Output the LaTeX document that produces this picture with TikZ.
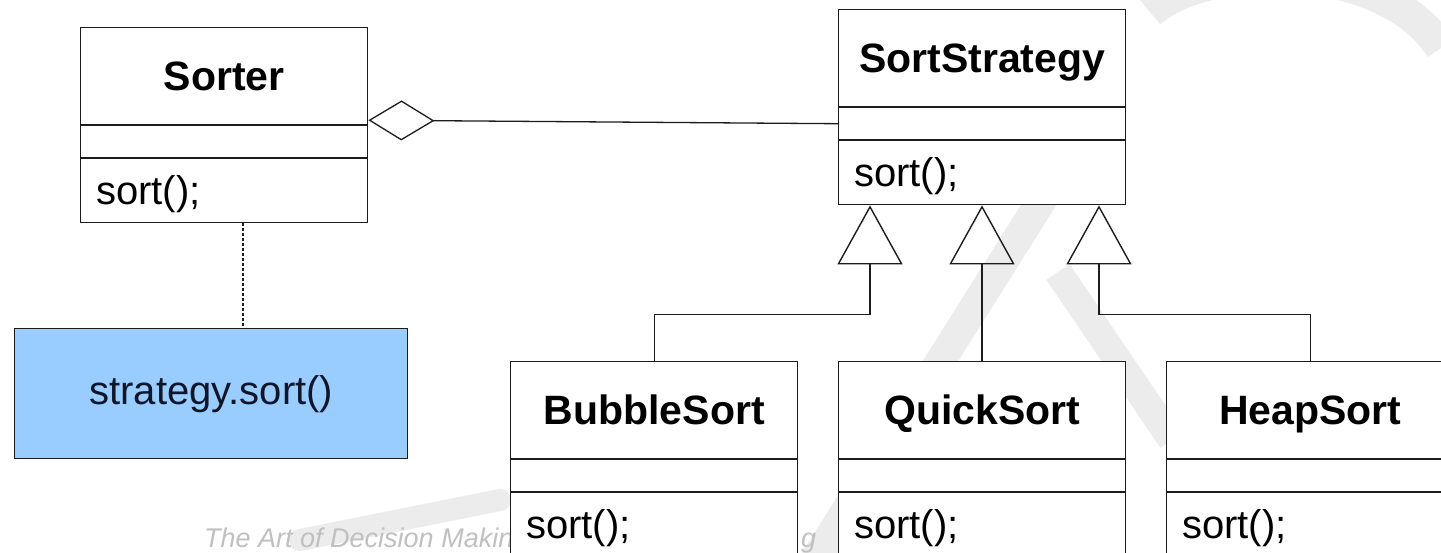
\documentclass[tikz,border=0pt]{standalone}
\usepackage{fontspec}
\setmainfont{Liberation Sans}
\usetikzlibrary{arrows.meta,calc}

\definecolor{callblue}{RGB}{153,204,255}
\definecolor{inkline}{RGB}{28,28,28}
\definecolor{wmgray}{RGB}{236,236,236}
\definecolor{wmtext}{RGB}{192,192,192}
\definecolor{calltext}{RGB}{16,22,40}

% one UML class: box, two compartment rules, bold name, one operation
\newcommand\umlclass[4]{%
  \node[classbox] (#1) at (#2,#3) {};
  \draw[divider] ([yshift=-98pt]#1.north west) -- ([yshift=-98pt]#1.north east);
  \draw[divider] ([yshift=-131pt]#1.north west) -- ([yshift=-131pt]#1.north east);
  \node[classname] (#1-title) at ([yshift=-63.7pt]#1.north) {#4};
  \node[classop] (#1-op) at ([xshift=16pt,yshift=-177pt]#1.north west) {sort();};
}

\begin{document}
\begin{tikzpicture}[x=1pt,y=-1pt,
  classbox/.style={draw=inkline, line width=1.4pt, fill=white,
    minimum width=287pt, minimum height=195pt, inner sep=0pt, anchor=north west},
  divider/.style={draw=inkline, line width=1.4pt},
  classname/.style={font=\fontsize{41}{48}\selectfont\bfseries, anchor=base, inner sep=0pt},
  classop/.style={font=\fontsize{40}{48}\selectfont, anchor=base west, inner sep=0pt},
  callbox/.style={draw=inkline, line width=1.4pt, fill=callblue,
    minimum width=393pt, minimum height=130pt, inner sep=0pt, anchor=north west},
  calltxt/.style={font=\fontsize{40}{48}\selectfont, text=calltext, anchor=base, inner sep=0pt},
  gen/.style={draw=inkline, line width=1.4pt,
    -{Triangle[open, length=59pt, width=65pt]}},
  agg/.style={draw=inkline, line width=1.3pt,
    {Diamond[open, length=66pt, width=40pt]}-},
  dep/.style={draw=inkline, line width=1.2pt, dash pattern=on 3pt off 2pt},
  wm/.style={draw=wmgray, line width=32pt},
  wmlabel/.style={font=\fontsize{27}{32}\selectfont\itshape, text=wmtext,
    anchor=base west, inner sep=0pt}
]
\useasboundingbox (0,0) rectangle (1441,552);
\clip (0,0) rectangle (1441,552);
\fill[white] (0,0) rectangle (1441,552);

% faint background logo
\draw[wm, line width=30pt] (1045,195) -- (812,565);
\draw[wm, line width=28pt] (1058,272) -- (1172,440);
\draw[wm, line width=22pt, line cap=round] (300,540) -- (500,500);
\draw[wm] (1150,12) .. controls (1210,-40) and (1385,-40) .. (1441,48);

% publisher line, partly hidden behind the classes
\node[wmlabel] (wm) at (204,547) {The Art of Decision Making};
\node[wmlabel] (wmg) at (801,547) {g};

% classes
\umlclass{sorter}{80}{27}{Sorter}
\umlclass{strat}{838}{9}{SortStrategy}
\umlclass{bubble}{510}{361}{BubbleSort}
\umlclass{quick}{838}{361}{QuickSort}
\umlclass{heap}{1166}{361}{HeapSort}

% note attached to Sorter
\node[callbox] (call) at (14,328) {};
\node[calltxt] (call-txt) at ([yshift=-11pt]call.center) {strategy.sort()};
\coordinate (depx) at (243,0);
\draw[dep] (sorter.south -| depx) -- (call.north -| depx);

% aggregation Sorter <>--- SortStrategy
\coordinate (aggA) at ([yshift=5pt]sorter.east);
\coordinate (aggB) at ([yshift=-16.5pt]strat.west);
\draw[agg] (aggA) -- (aggB);

% generalisations
\coordinate (tipA) at ([xshift=32pt]strat.south west);
\coordinate (tipB) at ([xshift=144pt]strat.south west);
\coordinate (tipC) at ([xshift=261pt]strat.south west);
\coordinate (busA) at ([yshift=-109pt]tipA);
\coordinate (busC) at ([yshift=-109pt]tipC);
\draw[gen] (bubble.north) |- (busA) -- (tipA);
\draw[gen] (quick.north -| tipB) -- (tipB);
\draw[gen] (heap.north) |- (busC) -- (tipC);
\end{tikzpicture}
\end{document}
